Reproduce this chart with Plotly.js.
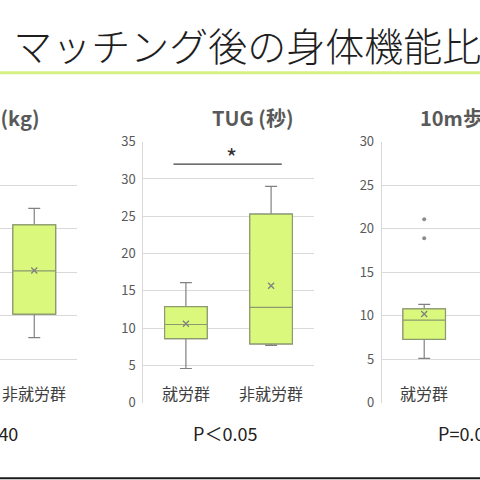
<!DOCTYPE html>
<html>
<head>
<meta charset="utf-8">
<script src="https://cdn.plot.ly/plotly-3.0.1.min.js"></script>
<style>
  html, body { margin: 0; padding: 0; width: 480px; height: 480px; overflow: hidden; background: #fff; }
  #stage { position: absolute; left: -160px; top: 0; width: 800px; height: 480px; }
</style>
</head>
<body>
<div id="stage"></div>
<script>
// Groups compared in every panel
const groups = ['就労群', '非就労群'];

// 握力 (kg)
const gripGroups = ['非就労群'];
const gripQ1 = [20.4];
const gripMedian = [30.3];
const gripQ3 = [40.9];
const gripLow = [15.0];
const gripHigh = [44.7];
const gripMean = [30.4];

// TUG (秒)
const tugGroups = ['就労群', '非就労群'];
const tugQ1 = [8.6, 7.9];
const tugMedian = [10.5, 12.8];
const tugQ3 = [12.9, 25.3];
const tugLow = [4.6, 7.7];
const tugHigh = [16.1, 29.0];
const tugMean = [10.6, 15.7];

// 10m歩行 (秒)
const walkGroups = ['就労群'];
const walkQ1 = [7.3];
const walkMedian = [9.5];
const walkQ3 = [10.8];
const walkLow = [5.1];
const walkHigh = [11.3];
const walkMean = [10.2];
const walkOutlierGroups = ['就労群', '就労群'];
const walkOutliers = [21.1, 18.9];

// Axis ticks and labels
const gripTicks = [0, 60, 10];
const tugTicks = [0, 35, 5];
const walkTicks = [0, 30, 5];
const panelTitles = ['握力 (kg)', 'TUG (秒)', '10m歩行 (秒)'];
const pValues = ['P=0.40', 'P＜0.05', 'P=0.07'];
const slideTitle = 'マッチング後の身体機能比較';

const FONT = 'Noto Sans CJK JP, Noto Sans, sans-serif';
const FILL = '#daf87c';
const BOX_LINE = '#8d9a6e';
const WHISKER = '#808080';
const GRID = '#d9d9d9';

const yDom = [0.1608, 0.7048];
const panels = [
  { ax: '', dom: [0.0825, 0.29625], ticks: gripTicks, tickLabels: false,
    g: gripGroups, q1: gripQ1, med: gripMedian, q3: gripQ3, lo: gripLow, hi: gripHigh, mean: gripMean,
    title: panelTitles[0], tx: 0.25125, txa: 'right', p: pValues[0], px: 0.225, pxa: 'right' },
  { ax: '2', dom: [0.37913, 0.59213], ticks: tugTicks, tickLabels: true,
    g: tugGroups, q1: tugQ1, med: tugMedian, q3: tugQ3, lo: tugLow, hi: tugHigh, mean: tugMean,
    title: panelTitles[1], tx: 0.5156, txa: 'center', p: pValues[1], px: 0.48125, pxa: 'center' },
  { ax: '3', dom: [0.67713, 0.88963], ticks: walkTicks, tickLabels: true,
    g: walkGroups, q1: walkQ1, med: walkMedian, q3: walkQ3, lo: walkLow, hi: walkHigh, mean: walkMean,
    title: panelTitles[2], tx: 0.7225, txa: 'left', p: pValues[2], px: 0.7445, pxa: 'left' }
];

const traces = [];
const layout = {
  width: 800, height: 480,
  margin: { l: 0, r: 0, t: 0, b: 0 },
  paper_bgcolor: '#ffffff', plot_bgcolor: 'rgba(0,0,0,0)',
  showlegend: false,
  boxmode: 'overlay',
  font: { family: FONT, color: '#595959' },
  title: {
    text: slideTitle, xref: 'container', yref: 'container',
    x: 0.2165, xanchor: 'left', y: 0.902, yanchor: 'middle',
    font: { family: 'Noto Sans CJK JP Light, Noto Sans CJK JP, sans-serif', size: 39, weight: 300, color: '#1e1e1e' }
  },
  annotations: [],
  shapes: [
    // accent rule under the heading
    { type: 'line', xref: 'paper', yref: 'paper', x0: 0, x1: 1, y0: 0.8485, y1: 0.8485,
      line: { color: '#d6f084', width: 3 } },
    // footer rule
    { type: 'line', xref: 'paper', yref: 'paper', x0: 0, x1: 1, y0: 0.0035, y1: 0.0035,
      line: { color: '#1a1a1a', width: 2 } }
  ]
};

panels.forEach(function (pn) {
  const xa = 'x' + pn.ax, ya = 'y' + pn.ax;
  // whiskers
  traces.push({
    type: 'box', xaxis: xa, yaxis: ya, x: pn.g,
    q1: pn.q1, median: pn.med, q3: pn.q3, lowerfence: pn.lo, upperfence: pn.hi,
    boxpoints: false, width: 0.5, whiskerwidth: 0.28,
    fillcolor: FILL, line: { color: WHISKER, width: 1.2 }, hoverinfo: 'skip'
  });
  // box body with median
  traces.push({
    type: 'box', xaxis: xa, yaxis: ya, x: pn.g,
    q1: pn.q1, median: pn.med, q3: pn.q3, lowerfence: pn.q1, upperfence: pn.q3,
    boxpoints: false, width: 0.5, whiskerwidth: 1,
    fillcolor: FILL, line: { color: BOX_LINE, width: 1.2 }, hoverinfo: 'skip'
  });
  // mean marker
  traces.push({
    type: 'scatter', mode: 'markers', xaxis: xa, yaxis: ya, x: pn.g, y: pn.mean,
    marker: { symbol: 'x-thin', size: 6, color: WHISKER, line: { width: 1.3, color: WHISKER } },
    hoverinfo: 'skip'
  });

  layout['xaxis' + pn.ax] = {
    domain: pn.dom, anchor: ya, type: 'category',
    categoryorder: 'array', categoryarray: groups, range: [-0.5, 1.5],
    showgrid: false, zeroline: false, showline: false, showticklabels: false, ticks: ''
  };
  layout['yaxis' + pn.ax] = {
    domain: yDom, anchor: xa, range: [pn.ticks[0], pn.ticks[1]],
    tick0: pn.ticks[0], dtick: pn.ticks[2],
    showgrid: true, gridcolor: GRID, gridwidth: 1, zeroline: false,
    showline: true, linecolor: GRID, linewidth: 1, ticks: '',
    showticklabels: pn.tickLabels,
    tickfont: { size: 13, color: '#595959', family: FONT }, ticklabelstandoff: 4
  };

  // group names under each drawn box
  pn.g.forEach(function (g) {
    layout.annotations.push({
      text: g, xref: xa, yref: 'paper', x: g, y: 0.181, xanchor: 'center', yanchor: 'middle',
      showarrow: false, font: { size: 16, color: '#404040', family: FONT }
    });
  });
  layout.annotations.push({
    text: '<b>' + pn.title + '</b>', xref: 'paper', yref: 'paper', x: pn.tx, y: 0.7555,
    xanchor: pn.txa, yanchor: 'middle', showarrow: false,
    font: { size: 20, color: '#595959', family: FONT }
  });
  layout.annotations.push({
    text: pn.p, xref: 'paper', yref: 'paper', x: pn.px, y: 0.097,
    xanchor: pn.pxa, yanchor: 'middle', showarrow: false,
    font: { size: 18, color: '#222222', family: FONT }
  });
});

// outliers of the 10m panel
traces.push({
  type: 'scatter', mode: 'markers', xaxis: 'x3', yaxis: 'y3',
  x: walkOutlierGroups, y: walkOutliers,
  marker: { symbol: 'circle', size: 4, color: '#8c8c8c' }, hoverinfo: 'skip'
});

// significance bracket on the TUG panel
layout.shapes.push({
  type: 'line', xref: 'x2', yref: 'y2', x0: -0.146, x1: 1.125, y0: 32.0, y1: 32.0,
  line: { color: '#404040', width: 1.2 }
});
layout.annotations.push({
  text: '*', xref: 'x2', yref: 'y2', x: 0.53, y: 33.0, xanchor: 'center', yanchor: 'middle',
  showarrow: false, font: { size: 24, color: '#333333', family: FONT }
});

Plotly.newPlot('stage', traces, layout, { staticPlot: true, displayModeBar: false });
</script>
</body>
</html>
